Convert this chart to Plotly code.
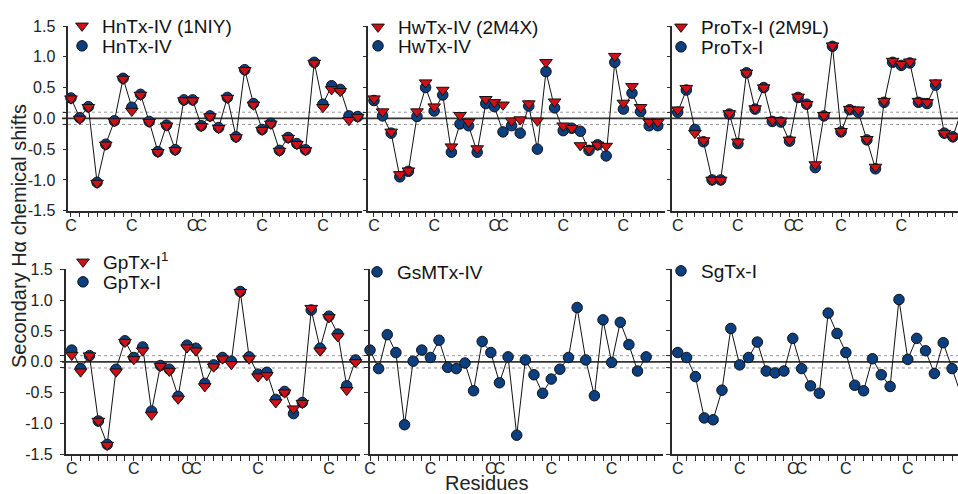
import plotly.graph_objects as go
import math

# ---------------- data ----------------
hntx_iv = [0.33, 0.01, 0.19, -1.04, -0.42, -0.04, 0.65, 0.18, 0.39, -0.05, -0.54, -0.11, -0.51, 0.30, 0.30,
           -0.12, 0.04, -0.15, 0.34, -0.30, 0.79, 0.24, -0.18, -0.08, -0.52, -0.31, -0.41, -0.51, 0.91, 0.23,
           0.53, 0.47, 0.04, 0.03]
hntx_iv_1niy = [0.32, -0.01, 0.18, -1.05, -0.43, -0.05, 0.64, 0.12, 0.38, -0.06, -0.55, -0.12, -0.52, 0.29, 0.29,
                -0.13, 0.03, -0.16, 0.33, -0.31, 0.78, 0.22, -0.19, -0.09, -0.53, -0.32, -0.42, -0.52, 0.90, 0.18,
                0.47, 0.44, -0.03, 0.02]
hwtx_iv = [0.29, 0.04, -0.24, -0.95, -0.86, 0.03, 0.50, 0.12, 0.38, -0.55, -0.09, -0.12, -0.55, 0.24, 0.19,
           -0.22, -0.12, -0.24, 0.20, -0.50, 0.76, 0.17, -0.20, -0.16, -0.21, -0.52, -0.43, -0.61, 0.91, 0.15,
           0.41, 0.11, -0.12, -0.12]
hwtx_iv_2m4x = [0.32, 0.11, -0.22, -0.91, -0.85, 0.11, 0.58, 0.19, 0.46, -0.46, 0.05, -0.06, -0.49, 0.31, 0.26,
                0.22, -0.04, -0.02, 0.24, -0.04, 0.91, 0.27, -0.12, -0.16, -0.44, -0.50, -0.43, -0.45, 1.01, 0.25,
                0.52, 0.18, -0.06, -0.06]
protx_i = [0.10, 0.46, -0.18, -0.38, -1.00, -1.00, 0.07, -0.41, 0.74, 0.15, 0.50, -0.05, -0.06, -0.37, 0.34,
           0.23, -0.80, 0.04, 1.17, -0.22, 0.14, 0.10, -0.35, -0.82, 0.26, 0.91, 0.86, 0.90, 0.26, 0.24,
           0.54, -0.24, -0.30, 0.12]
protx_i_2m9l = [0.14, 0.49, -0.24, -0.36, -1.00, -1.00, 0.08, -0.38, 0.74, 0.16, 0.50, -0.03, -0.04, -0.35, 0.35,
                0.23, -0.75, 0.05, 1.18, -0.21, 0.15, 0.14, -0.34, -0.79, 0.28, 0.93, 0.88, 0.92, 0.28, 0.26,
                0.58, -0.24, -0.30, 0.12]
gptx_i = [0.19, -0.11, 0.10, -0.96, -1.34, -0.12, 0.34, 0.07, 0.24, -0.80, -0.06, -0.12, -0.56, 0.27, 0.22,
          -0.35, -0.05, 0.07, 0.01, 1.14, 0.08, -0.20, -0.17, -0.61, -0.48, -0.84, -0.66, 0.84, 0.22, 0.74,
          0.45, -0.39, 0.03]
gptx_i_ref = [0.11, -0.16, 0.10, -0.96, -1.35, -0.16, 0.32, 0.04, 0.18, -0.86, -0.07, -0.15, -0.60, 0.23, 0.18,
              -0.40, -0.08, 0.05, -0.04, 1.13, 0.05, -0.24, -0.22, -0.66, -0.50, -0.76, -0.67, 0.87, 0.18, 0.72,
              0.41, -0.46, -0.01]
gsmtx_iv = [0.19, -0.11, 0.44, 0.15, -1.02, 0.01, 0.19, 0.07, 0.35, -0.09, -0.11, -0.02, -0.47, 0.33, 0.15,
            -0.34, 0.08, -1.19, 0.03, -0.21, -0.51, -0.28, -0.12, 0.07, 0.88, 0.03, -0.55, 0.68, -0.01, 0.64,
            0.28, -0.15, 0.08]
sgtx_i = [0.15, 0.07, -0.24, -0.91, -0.94, -0.46, 0.54, -0.05, 0.07, 0.32, -0.15, -0.18, -0.15, 0.38, -0.11,
          -0.39, -0.51, 0.79, 0.46, 0.15, -0.38, -0.47, 0.05, -0.21, -0.40, 1.01, 0.04, 0.38, 0.18, -0.19,
          0.31, -0.11, -0.53]

# cysteine positions (residue index along the axis) per panel
cys_hntx = [1, 8, 15, 16, 23, 30]
cys_hwtx = [1, 8, 15, 16, 23, 30]
cys_protx = [1, 8, 14, 15, 20, 27]
cys_gptx = [1, 8, 14, 15, 22, 30]
cys_gsmtx = [1, 8, 15, 16, 22, 29]
cys_sgtx = [1, 8, 14, 15, 20, 27]

y_tickvals = [-1.5, -1.0, -0.5, -0.1, 0.0, 0.1, 0.5, 1.0, 1.5]
y_ticktext = ["-1.5", "-1.0", "-0.5", "", "0.0", "", "0.5", "1.0", "1.5"]

# ---------------- styling ----------------
W, H = 958, 494
FONT = "Liberation Sans, Arial, Helvetica, sans-serif"
RED = "#d01018"
BLUE = "#0b3f80"
AX = "#2a2a2a"
LEG_SIZE = 19
LEG_DY = 20   # legend top -> item centre (px)
LEG_DX = 21   # legend left -> marker centre (px)

def px_x(p):
    return p / W

def px_y(p):
    return 1 - p / H

top_dom = [px_y(210.7), px_y(26.0)]
bot_dom = [px_y(454.3), px_y(269.3)]

panels = [
    dict(cn="HnTx-IV", cy=hntx_iv, tn="HnTx-IV (1NIY)", ty=hntx_iv_1niy, cys=cys_hntx,
         xd=(68.3, 362.0), xr=(0.69, 34.5), yd=top_dom, tpos=(83, 27), cpos=(83, 47)),
    dict(cn="HwTx-IV", cy=hwtx_iv, tn="HwTx-IV (2M4X)", ty=hwtx_iv_2m4x, cys=cys_hwtx,
         xd=(368.3, 665.0), xr=(0.34, 34.84), yd=top_dom, tpos=(379, 28), cpos=(379, 47)),
    dict(cn="ProTx-I", cy=protx_i, tn="ProTx-I (2M9L)", ty=protx_i_2m9l, cys=cys_protx,
         xd=(672.3, 958.0), xr=(0.37, 33.6), yd=top_dom, tpos=(682, 28), cpos=(682, 48)),
    dict(cn="GpTx-I", cy=gptx_i, tn="GpTx-I<sup>1</sup>", ty=gptx_i_ref, cys=cys_gptx,
         xd=(65.7, 360.0), xr=(0.32, 33.5), yd=bot_dom, tpos=(84, 263), cpos=(84, 283)),
    dict(cn="GsMTx-IV", cy=gsmtx_iv, tn=None, ty=None, cys=cys_gsmtx,
         xd=(370.0, 663.0), xr=(1.0, 34.95), yd=bot_dom, tpos=None, cpos=(378, 273)),
    dict(cn="SgTx-I", cy=sgtx_i, tn=None, ty=None, cys=cys_sgtx,
         xd=(671.7, 958.0), xr=(0.32, 32.67), yd=bot_dom, tpos=None, cpos=(682, 272)),
]

fig = go.Figure()
layout = dict(
    width=W, height=H,
    margin=dict(l=0, r=0, t=0, b=0, autoexpand=False),
    paper_bgcolor="white", plot_bgcolor="white",
    font=dict(family=FONT, size=16, color="#222"),
    showlegend=True,
)

leg_count = [0]

def new_legend(pos):
    leg_count[0] += 1
    n = leg_count[0]
    name = "legend" if n == 1 else f"legend{n}"
    mx, my = pos
    layout[name] = dict(
        x=px_x(mx - LEG_DX), y=px_y(my - LEG_DY), xanchor="left", yanchor="top",
        bgcolor="rgba(0,0,0,0)", borderwidth=0,
        font=dict(family=FONT, size=LEG_SIZE, color="#111"),
        itemsizing="trace",
    )
    return name

for i, p in enumerate(panels):
    k = i + 1
    xa = "x" if k == 1 else f"x{k}"
    ya = "y" if k == 1 else f"y{k}"
    xs = list(range(1, len(p["cy"]) + 1))

    # connecting line (not in legend)
    fig.add_trace(go.Scatter(
        x=xs, y=p["cy"], mode="lines", name=p["cn"], showlegend=False, hoverinfo="skip",
        line=dict(color="#111", width=1), xaxis=xa, yaxis=ya,
    ))
    fig.add_trace(go.Scatter(
        x=xs, y=p["cy"], mode="markers", name=p["cn"],
        marker=dict(symbol="circle", size=10.5, color=BLUE, line=dict(color="#111", width=1)),
        xaxis=xa, yaxis=ya, legend=new_legend(p["cpos"]), cliponaxis=False,
    ))
    if p["ty"] is not None:
        xt = list(range(1, len(p["ty"]) + 1))
        fig.add_trace(go.Scatter(
            x=xt, y=p["ty"], mode="markers", name=p["tn"],
            marker=dict(symbol="triangle-down", size=11, color=RED, line=dict(color="#111", width=1)),
            xaxis=xa, yaxis=ya, legend=new_legend(p["tpos"]), cliponaxis=False,
        ))

    x0, x1 = p["xd"]
    lo, hi = p["xr"]
    tv = list(range(math.ceil(lo), math.floor(hi) + 1))
    tt = ["C" if t in p["cys"] else "" for t in tv]
    xkey = "xaxis" if k == 1 else f"xaxis{k}"
    ykey = "yaxis" if k == 1 else f"yaxis{k}"
    layout[xkey] = dict(
        domain=[px_x(x0), min(1.0, px_x(x1))], range=[lo, hi], anchor=ya,
        tickmode="array", tickvals=tv, ticktext=tt, tickangle=0, ticklabelstandoff=-6,
        ticks="outside", ticklen=5, tickwidth=1,
        tickcolor=AX, showline=True, linecolor=AX, linewidth=1.5, showgrid=False, zeroline=False,
        tickfont=dict(family=FONT, size=16, color="#222"), fixedrange=True,
    )
    layout[ykey] = dict(
        domain=p["yd"], range=[-1.5, 1.5], anchor=xa,
        tickmode="array", tickvals=y_tickvals,
        ticktext=y_ticktext if k in (1, 4) else [""] * len(y_tickvals),
        showticklabels=k in (1, 4), ticklabelstandoff=4,
        ticks="outside", ticklen=4, tickwidth=1, tickcolor=AX,
        showline=True, linecolor=AX, linewidth=1.5, showgrid=False, zeroline=False,
        tickfont=dict(family=FONT, size=16, color="#222"), fixedrange=True,
    )

fig.update_layout(**layout)

# reference lines: zero (solid) and +/-0.1 (dotted), spanning each row
for yref in ("y", "y4"):
    fig.add_shape(type="line", xref="paper", yref=yref, x0=px_x(62), x1=1, y0=0, y1=0,
                  line=dict(color="#333333", width=1.7), layer="below")
    for v in (0.1, -0.1):
        fig.add_shape(type="line", xref="paper", yref=yref, x0=px_x(62), x1=1, y0=v, y1=v,
                      line=dict(color="#9a9a9a", width=1, dash="dot"), layer="below")

fig.add_annotation(text="Secondary H\u03b1 chemical shifts", xref="paper", yref="paper",
                   x=px_x(19), y=px_y(236), textangle=-90, showarrow=False,
                   font=dict(family=FONT, size=20, color="#222"), xanchor="center", yanchor="middle")
fig.add_annotation(text="Residues", xref="paper", yref="paper",
                   x=px_x(486), y=px_y(483), showarrow=False,
                   font=dict(family=FONT, size=20, color="#222"), xanchor="center", yanchor="middle")

fig.write_html("out.html")
